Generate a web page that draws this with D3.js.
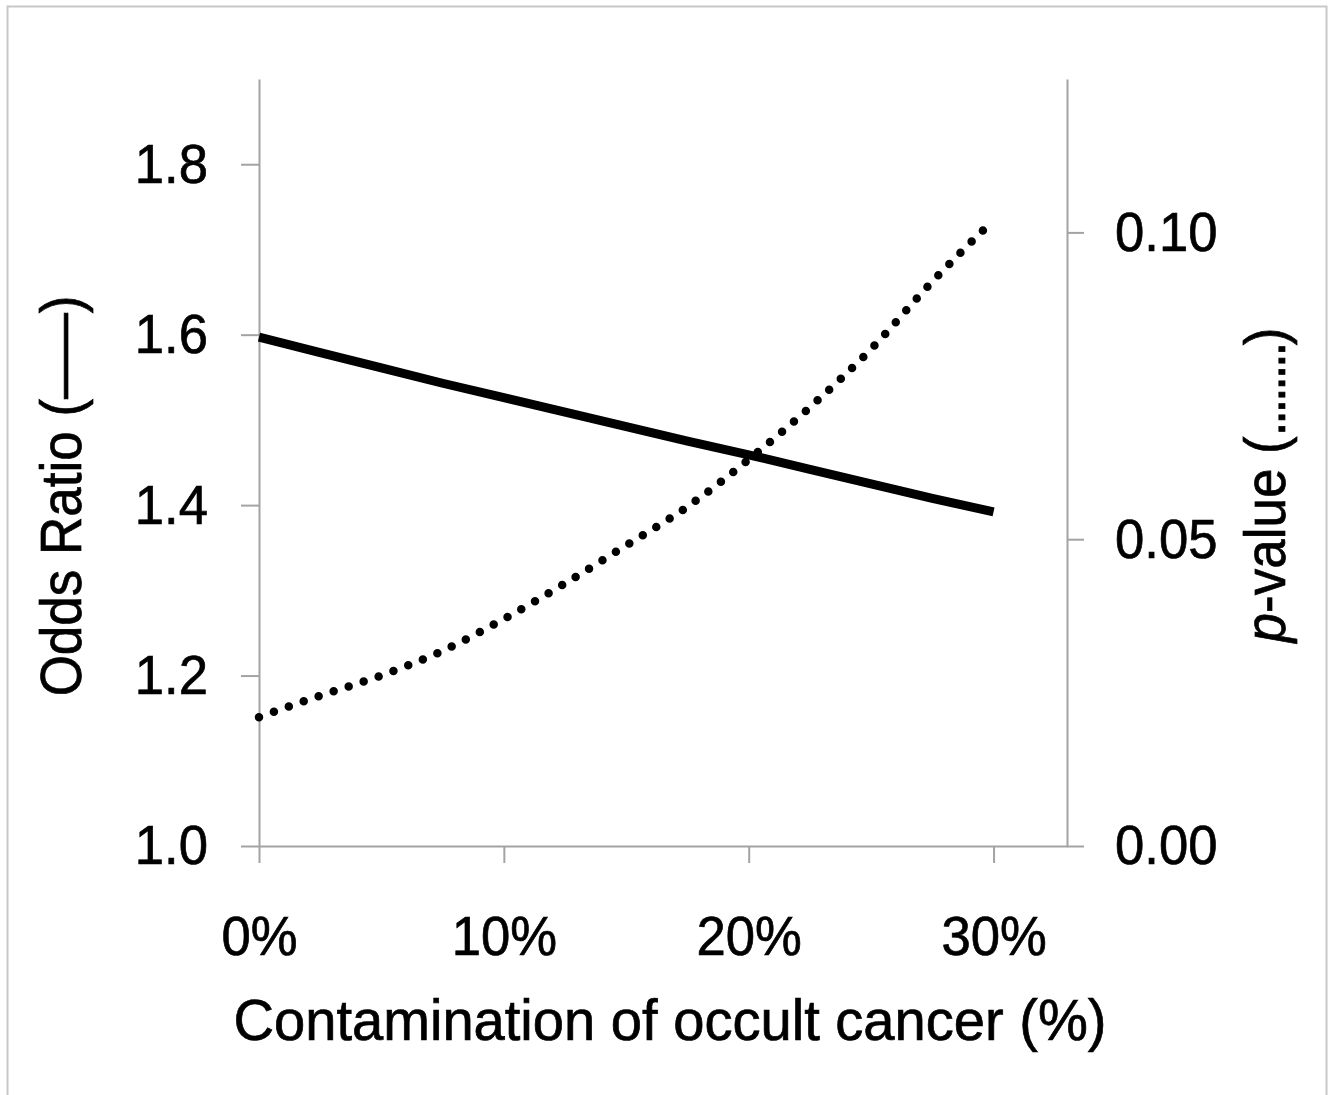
<!DOCTYPE html>
<html>
<head>
<meta charset="utf-8">
<script src="https://cdn.jsdelivr.net/npm/d3@7"></script>
<style>
    body { margin: 0; background: #fff; }
    svg { display: block; font-family: "Liberation Sans", Arial, sans-serif; }
    svg text { stroke: #000; stroke-width: 0.7px; }
</style>
</head>
<body>
<script>
// contamination of occult cancer (%)
const CONTAMINATION = [0, 2.5, 5, 7.5, 10, 12.5, 15, 17.5, 20, 22.5, 25, 27.5, 30];
const ODDS_RATIO = [1.597, 1.579, 1.561, 1.543, 1.526, 1.509, 1.492, 1.475, 1.459, 1.442, 1.425, 1.408, 1.392];
const P_VALUES = [0.0210, 0.0245, 0.0278, 0.0318, 0.0370, 0.0428, 0.0490, 0.0553, 0.0630, 0.0715, 0.0810, 0.0920, 0.1020];

const X_TICKS = [0, 10, 20, 30];
const OR_TICKS = [1.0, 1.2, 1.4, 1.6, 1.8];
const P_TICKS = [0, 0.05, 0.10];

const X_TITLE = "Contamination of occult cancer (%)";

const WIDTH = 1334;
const HEIGHT = 1095;
const AXIS_COLOR = "#a3a3a3";
const SQUEEZE = 0.94; // the source lettering is a little narrower than Arial

const svg = d3.select("body").append("svg")
    .attr("width", WIDTH)
    .attr("height", HEIGHT);

// frame around the figure
svg.append("rect")
    .attr("x", 7.5)
    .attr("y", 6.5)
    .attr("width", 1319)
    .attr("height", 1110)
    .attr("fill", "none")
    .attr("stroke", "#c8c8c8")
    .attr("stroke-width", 2);

const xScale = d3.scaleLinear().domain([0, 33]).range([259, 1067]);
const orScale = d3.scaleLinear().domain([1.0, 1.9]).range([846, 79]);
const pScale = d3.scaleLinear().domain([0, 0.125]).range([846, 79]);

const styleAxis = (g) => {
    g.selectAll("path, line")
        .attr("stroke", AXIS_COLOR)
        .attr("stroke-width", 2);
    g.selectAll("text")
        .attr("fill", "#000")
        .style("font-size", "56px")
        .style("font-family", "\"Liberation Sans\", Arial, sans-serif")
        .attr("x", function () { return (+this.getAttribute("x") || 0) / SQUEEZE; })
        .attr("transform", `scale(${SQUEEZE}, 1)`);
};

svg.append("g")
    .attr("id", "x-axis")
    .attr("transform", "translate(0, 846)")
    .call(d3.axisBottom(xScale)
        .tickValues(X_TICKS)
        .tickSize(17)
        .tickSizeOuter(0)
        .tickPadding(52)
        .tickFormat(d => `${d}%`))
    .call(styleAxis);

svg.append("g")
    .attr("id", "y-axis-left")
    .attr("transform", "translate(259, 0)")
    .call(d3.axisLeft(orScale)
        .tickValues(OR_TICKS)
        .tickSize(18)
        .tickSizeOuter(0)
        .tickPadding(33)
        .tickFormat(d3.format(".1f")))
    .call(styleAxis);

svg.append("g")
    .attr("id", "y-axis-right")
    .attr("transform", "translate(1067, 0)")
    .call(d3.axisRight(pScale)
        .tickValues(P_TICKS)
        .tickSize(17)
        .tickSizeOuter(0)
        .tickPadding(31)
        .tickFormat(d3.format(".2f")))
    .call(styleAxis);

const rows = CONTAMINATION.map((c, i) => ({ x: c, or: ODDS_RATIO[i], p: P_VALUES[i] }));

// odds ratio, solid
svg.append("path")
    .datum(rows)
    .attr("fill", "none")
    .attr("stroke", "#000")
    .attr("stroke-width", 9)
    .attr("d", d3.line().x(d => xScale(d.x)).y(d => orScale(d.or)));

// p-value, dotted
svg.append("path")
    .datum(rows)
    .attr("fill", "none")
    .attr("stroke", "#000")
    .attr("stroke-width", 8.5)
    .attr("stroke-linecap", "round")
    .attr("stroke-dasharray", "0 15.8")
    .attr("d", d3.line().curve(d3.curveMonotoneX).x(d => xScale(d.x)).y(d => pScale(d.p)));

// titles
svg.append("text")
    .attr("x", 670)
    .attr("y", 1040)
    .attr("text-anchor", "middle")
    .attr("textLength", 873)
    .attr("lengthAdjust", "spacingAndGlyphs")
    .style("font-size", "57px")
    .text(X_TITLE);

const leftTitle = svg.append("text")
    .attr("transform", `translate(81, 496) rotate(-90) scale(0.93, 1)`)
    .attr("text-anchor", "middle")
    .style("font-size", "57px");
leftTitle.append("tspan").text("Odds Ratio (");
leftTitle.append("tspan").attr("textLength", 92).attr("lengthAdjust", "spacingAndGlyphs").text("\u2014");
leftTitle.append("tspan").text(")");

const rightTitle = svg.append("text")
    .attr("transform", `translate(1285, 485) rotate(-90) scale(0.93, 1)`)
    .attr("text-anchor", "middle")
    .style("font-size", "57px");
rightTitle.append("tspan").style("font-style", "italic").text("p");
rightTitle.append("tspan").text("-value (");
rightTitle.append("tspan").style("letter-spacing", "-3.6px").text("........");
rightTitle.append("tspan").text(")");
</script>
</body>
</html>
